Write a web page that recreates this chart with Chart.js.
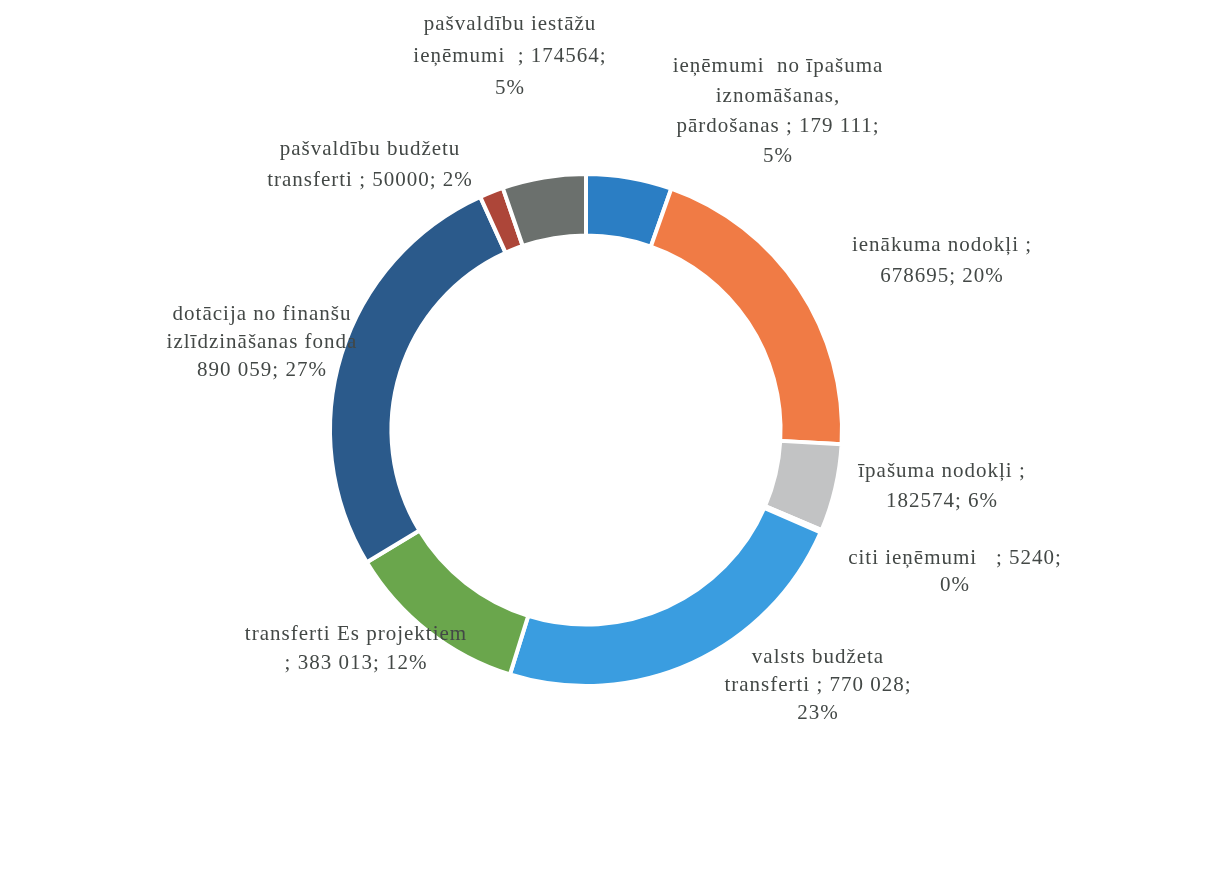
<!DOCTYPE html>
<html>
<head>
<meta charset="utf-8">
<script src="https://cdn.jsdelivr.net/npm/chart.js@4"></script>
<style>
  html, body { margin: 0; padding: 0; background: #fff; }
  #wrap { width: 1210px; height: 870px; }
</style>
</head>
<body>
<div id="wrap"><canvas id="incomeChart" width="1210" height="870"></canvas></div>
<script>
// ieņēmumu struktūra
const categories = [
  'ieņēmumi no īpašuma iznomāšanas, pārdošanas',
  'ienākuma nodokļi',
  'īpašuma nodokļi',
  'citi ieņēmumi',
  'valsts budžeta transferti',
  'transferti Es projektiem',
  'dotācija no finanšu izlīdzināšanas fonda',
  'pašvaldību budžetu transferti',
  'pašvaldību iestāžu ieņēmumi',
];
const values = [179111, 678695, 182574, 5240, 770028, 383013, 890059, 50000, 174564];
const colors = ['#2b7ec4', '#f07b45', '#c2c3c4', '#f2b51c', '#3a9de0', '#6aa64c', '#2b5a8b', '#ad4639', '#6b706d'];

// teksta rindas katram sektoram
const labelLines = [
  ['ieņēmumi  no īpašuma', 'iznomāšanas,', 'pārdošanas ; 179 111;', '5%'],
  ['ienākuma nodokļi ;', '678695; 20%'],
  ['īpašuma nodokļi ;', '182574; 6%'],
  ['citi ieņēmumi   ; 5240;', '0%'],
  ['valsts budžeta', 'transferti ; 770 028;', '23%'],
  ['transferti Es projektiem', '; 383 013; 12%'],
  ['dotācija no finanšu', 'izlīdzināšanas fonda', '890 059; 27%'],
  ['pašvaldību budžetu', 'transferti ; 50000; 2%'],
  ['pašvaldību iestāžu', 'ieņēmumi  ; 174564;', '5%'],
];
// teksta bloku novietojums (centrs x, pirmās rindas y, rindu solis)
const labelPos = [
  [778, 66, 30], [942, 245, 31], [942, 471, 30], [955, 558, 27], [818, 657, 28],
  [356, 634, 29], [262, 314, 28], [370, 149, 31], [510, 24, 32],
];

const labelPlugin = {
  id: 'sliceLabels',
  afterDraw(chart) {
    const ctx = chart.ctx;
    ctx.save();
    ctx.font = '21px "Liberation Serif", "DejaVu Serif", serif';
    ctx.letterSpacing = '1px';
    ctx.fillStyle = '#434846';
    ctx.textAlign = 'center';
    ctx.textBaseline = 'middle';
    labelLines.forEach((lines, i) => {
      const [x, y, step] = labelPos[i];
      lines.forEach((t, j) => ctx.fillText(t, x, y + j * step));
    });
    ctx.restore();
  },
};

new Chart(document.getElementById('incomeChart').getContext('2d'), {
  type: 'doughnut',
  data: {
    labels: categories,
    datasets: [{
      data: values,
      backgroundColor: colors,
      borderColor: '#ffffff',
      borderWidth: 4,
    }],
  },
  options: {
    responsive: false,
    animation: false,
    cutout: '76%',
    layout: { padding: { left: 328, right: 366, top: 172, bottom: 182 } },
    plugins: { legend: { display: false }, tooltip: { enabled: false } },
  },
  plugins: [labelPlugin],
});
</script>
</body>
</html>
